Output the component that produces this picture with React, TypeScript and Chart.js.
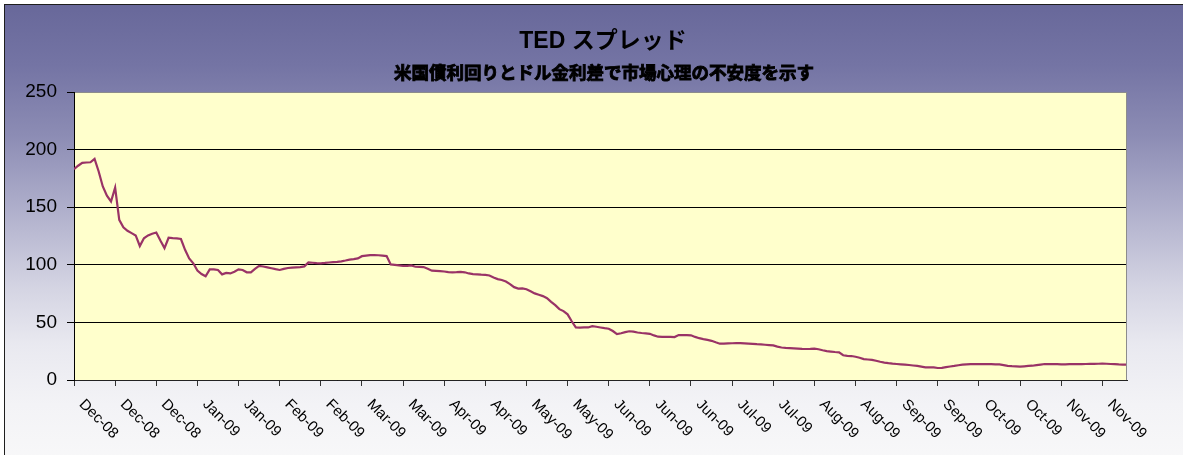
import React, { useEffect, useRef } from "react";
import { Chart, registerables } from "chart.js";

Chart.register(...registerables);

const chartTitle = "TED スプレッド";
const chartSubtitle = "米国債利回りとドル金利差で市場心理の不安度を示す";

const tickLabels = [
  "Dec-08", "Dec-08", "Dec-08", "Jan-09", "Jan-09", "Feb-09", "Feb-09", "Mar-09", "Mar-09",
  "Apr-09", "Apr-09", "May-09", "May-09", "Jun-09", "Jun-09", "Jun-09", "Jul-09", "Jul-09",
  "Aug-09", "Aug-09", "Sep-09", "Sep-09", "Oct-09", "Oct-09", "Nov-09", "Nov-09",
];

const tedValues = [
  183, 186, 188.5, 188.8, 189, 192, 181, 168, 160, 155,
  167, 139, 132.5, 129.5, 127.5, 125.5, 116.3, 123, 125.5, 127,
  128, 121, 114.5, 123.5, 123.2, 123, 122.4, 113, 105.5, 101.3,
  95, 92, 90, 96, 96, 95.5, 91.7, 93, 92.5, 94,
  96, 95.5, 93.5, 93.5, 96.5, 99, 98.5, 97.8, 97, 96.2,
  95.5, 96.5, 97.2, 97.5, 97.8, 98, 98.6, 102, 101.8, 101.5,
  101.3, 101.6, 102, 102.3, 102.5, 103, 103.7, 104.5, 105, 105.6,
  107.5, 108, 108.4, 108.5, 108.3, 108, 107.6, 100.3, 100, 99.5,
  99, 99, 99.5, 98.3, 98.2, 98, 96.5, 94.9, 94.7, 94.5,
  94.2, 93.6, 93.5, 93.6, 93.8, 93.5, 92.5, 91.9, 91.7, 91.4,
  91.2, 90.7, 89, 87.6, 86.8, 85.5, 83.3, 80.6, 79.3, 79.5,
  78.8, 77, 75.2, 74, 72.8, 71, 67.8, 65, 61.5, 59.8,
  57, 51, 45.7, 45.5, 45.7, 45.6, 46.8, 46.2, 45.6, 45,
  44.5, 42.5, 39.8, 40.6, 41.5, 42.3, 42, 41.2, 40.8, 40.5,
  40.1, 38.7, 37.6, 37.5, 37.5, 37.4, 37.3, 39, 38.9, 38.9,
  38.8, 37.4, 36.3, 35.5, 34.8, 34, 32.7, 31.5, 31.6, 31.8,
  31.9, 32, 32, 31.8, 31.6, 31.4, 31.1, 30.9, 30.6, 30.3,
  30, 29, 28.2, 27.9, 27.7, 27.5, 27.3, 27, 26.9, 27,
  27.2, 26.7, 25.8, 25.1, 24.7, 24.3, 24, 21.5, 20.9, 20.8,
  20.2, 19.3, 18.1, 17.8, 17.5, 16.7, 15.8, 15.1, 14.6, 14.2,
  13.9, 13.6, 13.3, 13, 12.6, 12.2, 11.6, 11, 11, 11,
  10.4, 10.6, 11.2, 11.7, 12.2, 12.8, 13.3, 13.6, 13.7, 13.8,
  13.9, 13.8, 13.7, 13.7, 13.6, 13.5, 12.9, 12.3, 12, 11.8,
  11.6, 11.9, 12.2, 12.4, 12.9, 13.4, 13.9, 13.8, 13.7, 13.7,
  13.6, 13.6, 13.7, 13.7, 13.8, 13.8, 13.9, 14, 14, 14.1,
  14.2, 14.1, 13.9, 13.7, 13.5, 13.4, 13.3,
];

const labelEvery = 10;
const yMin = 0;
const yMax = 250;
const yStep = 50;

const W = 1183;
const H = 455;

export default function App() {
  const canvasRef = useRef<HTMLCanvasElement | null>(null);

  useEffect(() => {
    const canvas = canvasRef.current;
    if (!canvas) return;

    const decorPlugin = {
      id: "decor",
      beforeDraw(chart: any) {
        const { ctx, chartArea } = chart;
        ctx.save();
        ctx.fillStyle = "#ffffcc";
        ctx.fillRect(chartArea.left, chartArea.top, chartArea.right - chartArea.left, chartArea.bottom - chartArea.top);
        ctx.restore();
      },
      afterDatasetsDraw(chart: any) {
        const { ctx, chartArea } = chart;
        ctx.save();
        ctx.strokeStyle = "#8c8c8c";
        ctx.lineWidth = 1;
        ctx.beginPath();
        ctx.moveTo(Math.round(chartArea.right) - 0.5, chartArea.top);
        ctx.lineTo(Math.round(chartArea.right) - 0.5, chartArea.bottom);
        ctx.stroke();
        ctx.restore();
      },
      afterDraw(chart: any) {
        const { ctx } = chart;
        const xs = chart.scales.x;
        ctx.save();
        // title
        ctx.fillStyle = "#000";
        ctx.textAlign = "center";
        ctx.textBaseline = "alphabetic";
        ctx.font = 'bold 23px "Liberation Sans", "Noto Sans CJK JP", sans-serif';
        ctx.fillText(chartTitle, 603, 48);
        ctx.font = 'bold 17.5px "Noto Sans CJK JP", sans-serif';
        ctx.textBaseline = "middle";
        ctx.strokeStyle = "#000";
        ctx.lineWidth = 0.9;
        ctx.strokeText(chartSubtitle, 604, 72.5);
        ctx.fillText(chartSubtitle, 604, 72.5);
        // x labels
        ctx.font = '15px "Liberation Sans", Arial, sans-serif';
        ctx.textAlign = "left";
        ctx.textBaseline = "middle";
        tickLabels.forEach((lab, i) => {
          const x = xs.getPixelForValue(i * labelEvery);
          ctx.save();
          ctx.translate(x + 7.5, 402);
          ctx.rotate(Math.PI / 4);
          ctx.fillText(lab, 0, 0);
          ctx.restore();
        });
        ctx.restore();
      },
    };

    const chart = new Chart(canvas, {
      type: "line",
      data: {
        datasets: [
          {
            label: "TED",
            data: tedValues.map((v, i) => ({ x: i, y: v })),
            borderColor: "#993366",
            borderWidth: 2.2,
            pointRadius: 0,
            tension: 0,
            fill: false,
          },
        ],
      },
      options: {
        animation: false,
        responsive: false,
        devicePixelRatio: 1,
        layout: { padding: { left: 0, right: 56, top: 92, bottom: 0 } },
        plugins: {
          legend: { display: false },
          title: { display: false },
          tooltip: { enabled: false },
        },
        scales: {
          x: {
            type: "linear",
            min: 0,
            max: tedValues.length - 1,
            afterFit(scale: any) {
              scale.height = 75;
            },
            ticks: {
              display: false,
              stepSize: labelEvery,
              includeBounds: false,
            },
            grid: {
              drawOnChartArea: false,
              drawTicks: true,
              tickLength: 6,
              tickColor: "#333",
              color: "#333",
            },
            border: { display: true, color: "#222", width: 1 },
          },
          y: {
            min: yMin,
            max: yMax,
            afterFit(scale: any) {
              scale.width = 74;
            },
            ticks: {
              stepSize: yStep,
              padding: 10,
              color: "#000",
              font: { family: '"Liberation Sans", Arial, sans-serif', size: 19 },
            },
            grid: {
              color: (c: any) => (c.tick && c.tick.value === yMax ? "#8c8c8c" : "#000"),
              tickColor: "#000",
              tickLength: 7,
              lineWidth: 1,
            },
            border: { display: true, color: "#000", width: 1 },
          },
        },
      },
      plugins: [decorPlugin],
    });

    return () => {
      chart.destroy();
    };
  }, []);

  return (
    <div style={{ position: "fixed", left: 0, top: 0, width: W, height: H, overflow: "hidden" }}>
      <div
        style={{
          position: "absolute",
          left: 4,
          top: 4,
          width: 1260,
          height: 520,
          border: "1px solid #1e1e1e",
          background:
            "linear-gradient(to bottom, #68689a 0px, #7474a4 60px, #8c8cb4 130px, #adadca 200px, #d3d3e2 280px, #e9e9f0 340px, #f3f3f6 400px, #f8f8f9 460px)",
        }}
      />
      <canvas
        ref={canvasRef}
        width={W}
        height={H}
        style={{ position: "absolute", left: 0, top: 0, width: W, height: H }}
      />
    </div>
  );
}
